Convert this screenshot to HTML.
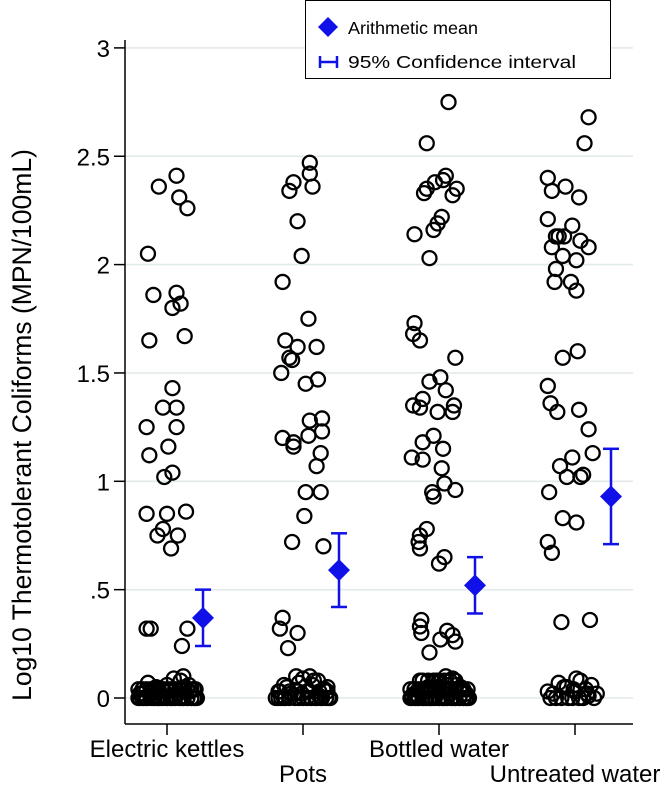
<!DOCTYPE html>
<html><head><meta charset="utf-8">
<style>
html,body{margin:0;padding:0;background:#fff;}
svg{display:block;font-family:"Liberation Sans",Arial,sans-serif;}
</style></head>
<body>
<svg id="chart" width="666" height="786" viewBox="0 0 666 786" xmlns="http://www.w3.org/2000/svg">
<g id="grid"></g>
<g id="yaxis"></g>
<g id="xaxis"></g>
<g id="points"></g>
<g id="means"></g>
<text transform="translate(31,425) rotate(-90)" text-anchor="middle" font-size="26.5">Log10 Thermotolerant Coliforms (MPN/100mL)</text>
<g>
<rect x="305.5" y="0.5" width="305" height="78" fill="#fff" stroke="#000" stroke-width="1"/>
<g>
<polygon points="328,17 338,27 328,37 318,27" fill="#1010e8"/>
<text x="348" y="34" font-size="17.5" textLength="130" lengthAdjust="spacingAndGlyphs">Arithmetic mean</text>
</g>
<g>
<line x1="320" y1="62" x2="337" y2="62" stroke="#1010e8" stroke-width="2.5"/>
<line x1="320" y1="56" x2="320" y2="68" stroke="#1010e8" stroke-width="2.5"/>
<line x1="337" y1="56" x2="337" y2="68" stroke="#1010e8" stroke-width="2.5"/>
<text x="348" y="68" font-size="17.5" textLength="228" lengthAdjust="spacingAndGlyphs">95% Confidence interval</text>
</g>
</g>
</svg>
<script>
const categories = ["Electric kettles","Pots","Bottled water","Untreated water"];
const yTicks = [0,0.5,1,1.5,2,2.5,3];
const yTickLabels = ["0",".5","1","1.5","2","2.5","3"];
const means = [0.37,0.59,0.52,0.93];
const ciLow = [0.24,0.42,0.39,0.71];
const ciHigh = [0.50,0.76,0.65,1.15];

const kettleValues = [2.41,2.36,2.31,2.26,2.05,1.86,1.87,1.80,1.82,1.65,1.67,1.43,1.34,1.34,1.25,1.25,1.16,1.12,1.04,1.02,0.85,0.85,0.86,0.78,0.75,0.75,0.69,0.32,0.32,0.32,0.24,
 0,0,0,0,0,0,0,0,0,0,0,0,0,0,0.02,0.02,0.03,0.03,0.04,0.05,0.05,0.06,0.07,0.08,0.09,0.10,0.04,0.02,0.01,0.01,0.03,0.06,0.02,0,
 0,0,0,0,0,0,0,0,0,0,0,0,0,0,0,0.04,0.04,0.04,0.04,0.04,0.04,0.04,0.04,0.04,0.04,0.04,0.04,0.04,0.04,0.04];
const kettleJitter = [.07,-.06,.09,.15,-.14,-.10,.07,.04,.10,-.13,.13,.04,-.03,.07,-.15,.07,.01,-.13,.04,-.02,-.15,0,.14,-.03,-.07,.08,.03,-.15,-.12,.15,.11,
 -.2,-.15,-.1,-.05,0,.05,.1,.15,.2,-.17,.03,.12,-.07,.18,-.18,.08,-.12,.17,-.03,-.08,.13,0,-.14,.10,.05,.12,.2,-.2,-.1,.06,-.02,.16,-.12,.22,
 -.21,-.18,-.15,-.12,-.09,-.06,-.03,0,.03,.06,.09,.12,.15,.18,.21,-.21,-.18,-.15,-.12,-.09,-.06,-.03,0,.03,.06,.09,.12,.15,.18,.21];

const potValues = [2.47,2.42,2.38,2.36,2.34,2.20,2.04,1.92,1.75,1.65,1.62,1.62,1.57,1.56,1.50,1.45,1.47,1.28,1.29,1.23,1.21,1.20,1.18,1.16,1.13,1.07,0.95,0.95,0.84,0.72,0.70,0.37,0.32,0.30,0.23,
 0,0,0,0,0,0,0,0,0,0,0.02,0.03,0.04,0.05,0.06,0.07,0.08,0.09,0.10,0.10,0.05,0.03,0.01,0.02,0.04,0.06,0.08,
 0,0,0,0,0,0,0,0,0.03,0.03,0.03,0.03,0.03,0.03];
const potJitter = [.05,.05,-.07,.07,-.10,-.04,-.01,-.15,.04,-.13,-.04,.10,-.10,-.08,-.16,.02,.11,.05,.14,.14,.04,-.15,-.07,-.07,.13,.10,.02,.13,.01,-.08,.15,-.15,-.17,-.04,-.11,
 -.2,-.13,-.06,0,.06,.13,.2,-.16,.09,.17,-.09,.03,.15,-.12,.07,-.03,.11,.0,-.05,.05,.18,-.18,.12,-.01,.16,-.14,.08,
 -.18,-.14,-.1,-.03,.03,.1,.14,.19,-.17,-.1,-.04,.05,.12,.18];

const bottledValues = [2.75,2.56,2.41,2.39,2.38,2.35,2.33,2.35,2.32,2.22,2.19,2.16,2.14,2.03,1.73,1.68,1.65,1.57,1.48,1.46,1.42,1.38,1.35,1.34,1.35,1.32,1.32,1.21,1.18,1.15,1.11,1.10,1.06,0.99,0.95,0.96,0.93,0.78,0.75,0.72,0.69,0.65,0.62,
 0.36,0.33,0.30,0.27,0.31,0.29,0.26,0.21,
 0,0,0,0,0,0,0,0,0,0,0,0,0,0,0.02,0.02,0.03,0.04,0.05,0.05,0.06,0.07,0.08,0.09,0.10,0.04,0.02,0.01,0.03,0.06,0.08,0.05,0,0,
 0,0,0,0,0,0,0,0,0,0,0,0,0,0,0,0.04,0.04,0.04,0.04,0.04,0.04,0.04,0.04,0.04,0.04,0.04,0.04,0.04,0.04,0.04,0.08,0.08,0.08,0.08,0.08,0.08,0.08];
const bottledJitter = [.07,-.09,.05,.03,-.03,-.09,-.11,.13,.10,.02,-.01,-.04,-.18,-.07,-.18,-.19,-.14,.12,.01,-.07,.05,-.12,-.19,-.14,.11,-.01,.10,-.04,-.12,.03,-.20,-.12,.02,.04,-.05,.12,-.04,-.09,-.14,-.15,-.14,.04,0,
 -.13,-.14,-.13,.01,.06,.10,.12,-.07,
 -.2,-.15,-.1,-.05,0,.05,.1,.15,.2,-.17,.03,.12,-.07,.18,-.18,.08,-.12,.17,-.03,-.08,.13,0,-.14,.10,.05,.12,.2,-.2,-.1,.06,-.02,.16,-.12,.22,
 -.21,-.18,-.15,-.12,-.09,-.06,-.03,0,.03,.06,.09,.12,.15,.18,.21,-.21,-.18,-.15,-.12,-.09,-.06,-.03,0,.03,.06,.09,.12,.15,.18,.21,-.12,-.08,-.04,0,.04,.08,.12];

const untreatedValues = [2.68,2.56,2.40,2.34,2.36,2.31,2.21,2.18,2.13,2.13,2.13,2.11,2.08,2.08,2.04,2.02,1.98,1.92,1.92,1.88,1.60,1.57,1.44,1.36,1.32,1.33,1.24,1.13,1.11,1.07,1.02,1.03,1.02,0.95,0.83,0.81,0.72,0.67,0.35,0.36,
 0,0,0,0,0,0,0.02,0.03,0.04,0.05,0.06,0.07,0.08,0.09,0.03,0.01,0.05,0.02,0,0,0.02,0.04];
const untreatedJitter = [.10,.07,-.20,-.17,-.07,.03,-.20,-.02,-.14,-.12,-.08,.04,.10,-.17,-.09,.01,-.14,-.15,-.03,.01,.02,-.09,-.20,-.18,-.13,.03,.10,.13,-.02,-.11,-.06,.06,.04,-.19,-.09,.01,-.20,-.17,-.10,.11,
 -.18,-.1,-.02,.06,.14,-.14,-.16,.0,.08,-.06,.12,-.12,.04,.01,-.2,.1,-.08,.16,-.05,.03,.09,-.01];

const seriesValues = [kettleValues,potValues,bottledValues,untreatedValues];
const seriesJitter = [kettleJitter,potJitter,bottledJitter,untreatedJitter];

const NS="http://www.w3.org/2000/svg";
const Y0=698, YPX=216.7, X0=167, XSTEP=136, PL=125, PR=633, AXY=724;
function yScale(v){return Y0 - v*YPX;}
function xScale(i){return X0 + i*XSTEP;}
function mk(tag,attrs,parent){const e=document.createElementNS(NS,tag);for(const k in attrs)e.setAttribute(k,attrs[k]);parent.appendChild(e);return e;}

const grid=document.getElementById('grid'), ya=document.getElementById('yaxis'), xa=document.getElementById('xaxis');
yTicks.forEach((t,i)=>{
  const y=yScale(t);
  const g=mk('line',{x1:PL,x2:PR,y1:y,y2:y,stroke:'#e3eaea','stroke-width':1.6},grid);
  
  
  const tk=mk('line',{x1:PL-11,x2:PL,y1:y,y2:y,stroke:'#000','stroke-width':1.5},ya);
  
  
  const tx=mk('text',{x:PL-15,y:y+9,'text-anchor':'end','font-size':24},ya);
  
  
  tx.textContent=yTickLabels[i];
});
const yl=mk('line',{x1:PL,x2:PL,y1:40,y2:AXY,stroke:'#000','stroke-width':1.5},ya);


const xl=mk('line',{x1:PL,x2:PR,y1:AXY,y2:AXY,stroke:'#000','stroke-width':1.5},xa);


categories.forEach((c,i)=>{
  const x=xScale(i);
  const tk=mk('line',{x1:x,x2:x,y1:AXY,y2:AXY+11,stroke:'#000','stroke-width':1.5},xa);
  
  
  const tx=mk('text',{x:x,y:(i%2===0)?757:782,'text-anchor':'middle','font-size':24},xa);
  
  
  tx.textContent=c;
});

const pts=document.getElementById('points');
seriesValues.forEach((vals,i)=>{
  vals.forEach((v,j)=>{
    const c=mk('circle',{cx:xScale(i+seriesJitter[i][j]),cy:yScale(v),r:7,fill:'none',stroke:'#000','stroke-width':2.3},pts);
    
    
  });
});

const mg=document.getElementById('means');
means.forEach((m,i)=>{
  const x=xScale(i)+36;
  const lo=yScale(ciLow[i]), hi=yScale(ciHigh[i]);
  const ci=mk('g',{},mg);
  
  
  mk('line',{x1:x,x2:x,y1:lo,y2:hi,stroke:'#1010e8','stroke-width':2.5},ci);
  mk('line',{x1:x-8,x2:x+8,y1:lo,y2:lo,stroke:'#1010e8','stroke-width':2.5},ci);
  mk('line',{x1:x-8,x2:x+8,y1:hi,y2:hi,stroke:'#1010e8','stroke-width':2.5},ci);
  const y=yScale(m);
  const d=mk('polygon',{points:`${x},${y-11} ${x+11},${y} ${x},${y+11} ${x-11},${y}`,fill:'#1010e8'},mg);
  
  
});
</script>
</body></html>
